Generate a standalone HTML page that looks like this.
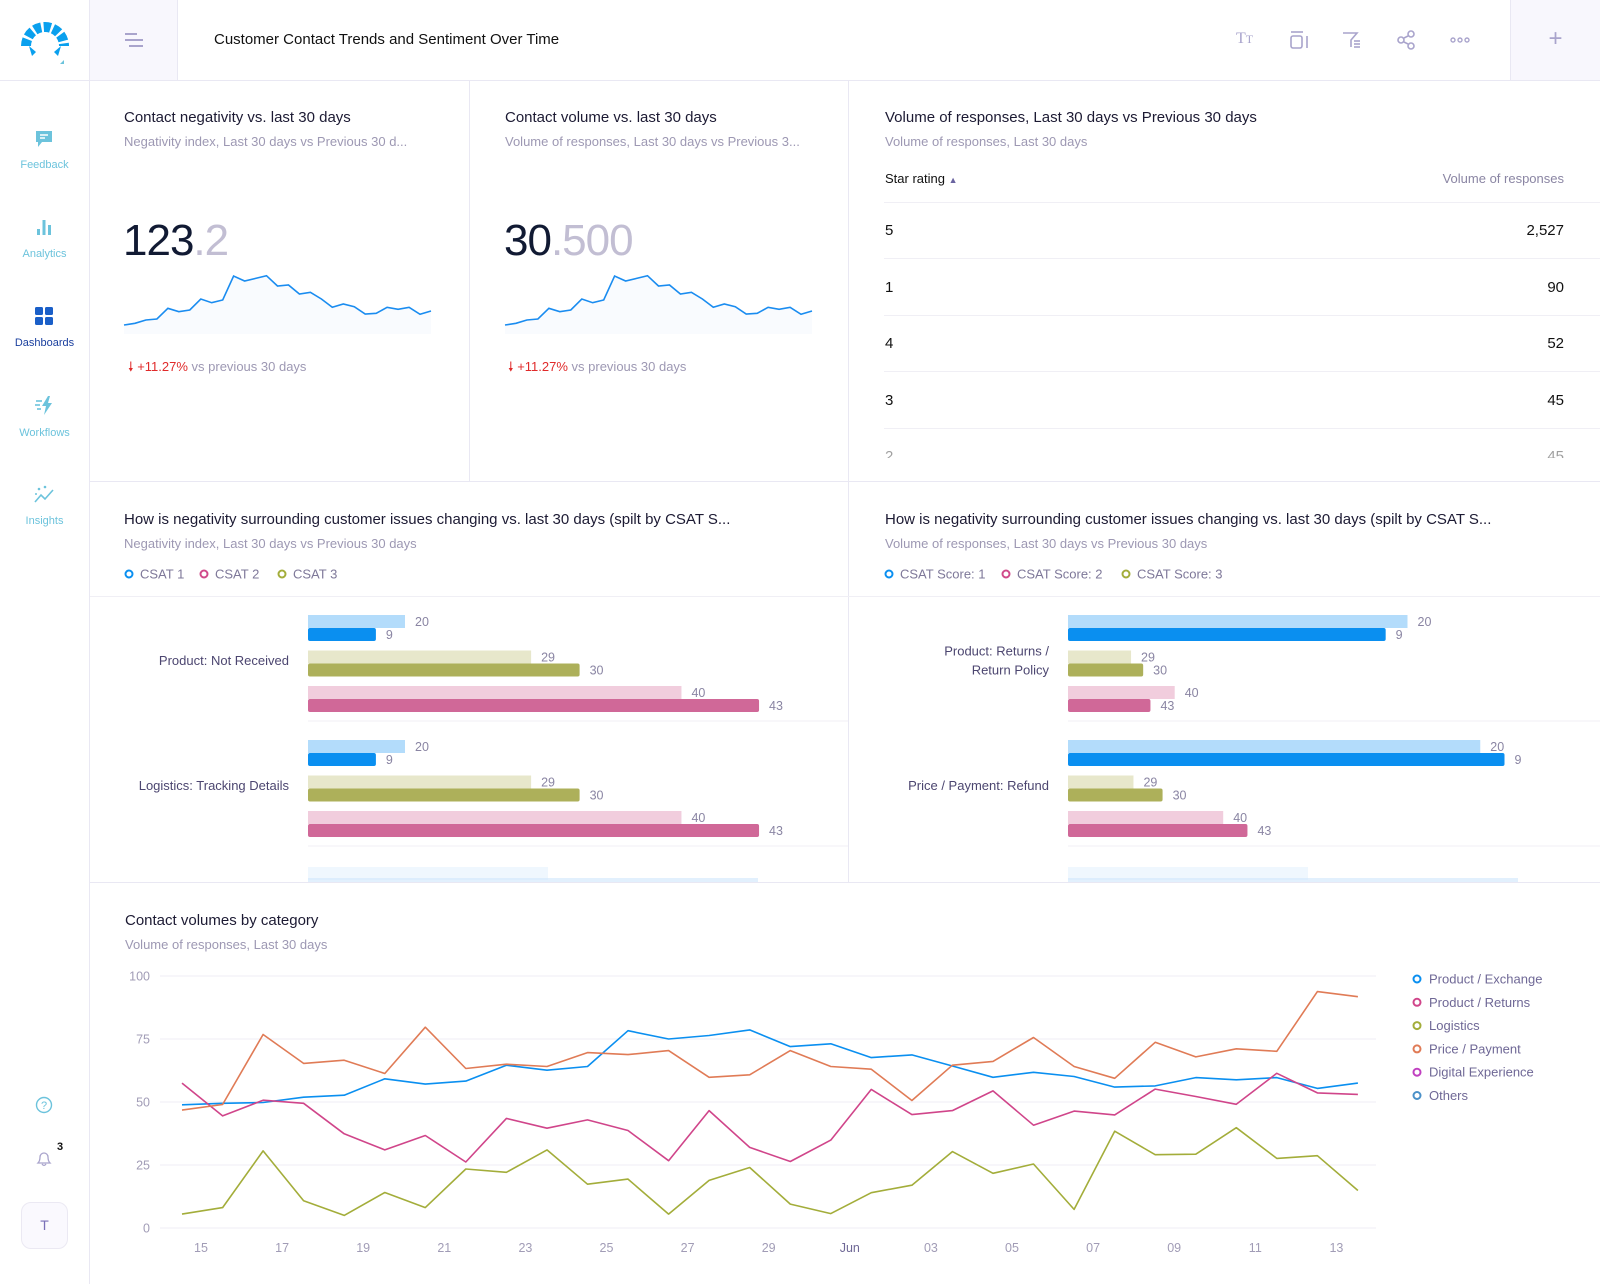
<!DOCTYPE html>
<html><head><meta charset="utf-8">
<style>
*{box-sizing:border-box;margin:0;padding:0}
body{width:1600px;height:1284px;overflow:hidden;background:#fff;font-family:"Liberation Sans",sans-serif;position:relative;color:#1c1a33}
.a{position:absolute;white-space:nowrap}
.t{font-size:15px;color:#1c1a33}
.s{font-size:13px;color:#9d98b3}
.nav{font-size:11px;color:#6cc3dc;text-align:center;width:89px;left:0}
.hl{background:#e9e8f3;position:absolute}
</style></head><body>
<div class="hl" style="left:0;top:80px;width:1600px;height:1px"></div>
<div class="hl" style="left:89px;top:0;width:1px;height:1284px"></div>
<div class="a" style="left:90px;top:0;width:88px;height:80px;background:#f8f7fd;border-right:1px solid #e9e8f3">
<svg width="88" height="80"><g stroke="#a9a4cc" stroke-width="2"><line x1="35" y1="34" x2="47" y2="34"/><line x1="35" y1="40" x2="53" y2="40"/><line x1="39" y1="46" x2="53" y2="46"/></g></svg></div>
<div class="a" style="left:1510px;top:0;width:90px;height:80px;background:#f8f7fd;border-left:1px solid #e9e8f3;font-size:24px;color:#a9a4cc;text-align:center;line-height:78px">+</div>
<svg class="a" style="left:20px;top:16px" width="50" height="50">
<path d="M6 30 A19 19 0 0 1 44 30" fill="none" stroke="#0aa0ee" stroke-width="10" stroke-dasharray="7 2.5"/>
<path d="M9 30 L16 36 L12 40Z M41 30 L34 36 L38 40Z" fill="#0aa0ee"/><path d="M44 44 L44 48 L40 48Z" fill="#6cc3dc"/></svg>
<div class="a" style="left:214px;top:31px;font-size:15px;color:#111">Customer Contact Trends and Sentiment Over Time</div>
<div class="a" style="left:1236px;top:30px;font-size:16px;color:#a9a4cc;font-family:'Liberation Serif'">T<span style="font-size:12px">T</span></div>
<svg class="a" style="left:1288px;top:30px" width="22" height="20"><g fill="none" stroke="#a9a4cc" stroke-width="1.6"><line x1="3" y1="2" x2="15" y2="2"/><rect x="3" y="6" width="11" height="12" rx="2"/><line x1="19" y1="6" x2="19" y2="18"/></g></svg>
<svg class="a" style="left:1341px;top:30px" width="22" height="20"><g fill="none" stroke="#a9a4cc" stroke-width="1.6"><path d="M2 3 H16 L10 10 V17"/><line x1="13" y1="11" x2="19" y2="11"/><line x1="13" y1="14" x2="19" y2="14"/><line x1="13" y1="17" x2="19" y2="17"/></g></svg>
<svg class="a" style="left:1396px;top:30px" width="22" height="20"><g fill="none" stroke="#a9a4cc" stroke-width="1.6"><circle cx="5" cy="10" r="3"/><circle cx="15" cy="4" r="3"/><circle cx="15" cy="16" r="3"/><line x1="8" y1="8" x2="12" y2="6"/><line x1="8" y1="12" x2="12" y2="14"/></g></svg>
<svg class="a" style="left:1449px;top:34px" width="22" height="12"><g fill="none" stroke="#a9a4cc" stroke-width="1.4"><circle cx="4" cy="6" r="2"/><circle cx="11" cy="6" r="2"/><circle cx="18" cy="6" r="2"/></g></svg>

<svg class="a" style="left:34px;top:129px" width="20" height="20"><path d="M2 2 H18 V13 H8 L4 18 V13 H2Z" fill="#6cc3dc"/><g stroke="#fff" stroke-width="1.5"><line x1="6" y1="6" x2="14" y2="6"/><line x1="6" y1="9" x2="11" y2="9"/></g></svg>
<div class="a nav" style="top:159px">Feedback</div>
<svg class="a" style="left:34px;top:217px" width="20" height="20"><g fill="#6cc3dc"><rect x="3" y="12" width="3" height="6"/><rect x="8.5" y="3" width="3" height="15"/><rect x="14" y="8" width="3" height="10"/></g></svg>
<div class="a nav" style="top:248px">Analytics</div>
<svg class="a" style="left:34px;top:306px" width="20" height="20"><g fill="#1a5fc8"><rect x="1" y="1" width="8" height="8" rx="1.5"/><rect x="11" y="1" width="8" height="8" rx="1.5"/><rect x="1" y="11" width="8" height="8" rx="1.5"/><rect x="11" y="11" width="8" height="8" rx="1.5"/></g></svg>
<div class="a nav" style="top:337px;color:#1a3f9e">Dashboards</div>
<svg class="a" style="left:34px;top:395px" width="22" height="22"><path d="M14 1 L8 11 H12 L10 20 L18 8 H14 L16 1Z" fill="#6cc3dc"/><g stroke="#6cc3dc" stroke-width="1.6"><line x1="2" y1="6" x2="8" y2="6"/><line x1="1" y1="10" x2="6" y2="10"/><line x1="3" y1="14" x2="7" y2="14"/></g></svg>
<div class="a nav" style="top:427px">Workflows</div>
<svg class="a" style="left:33px;top:485px" width="22" height="20"><polyline points="2,17 8,10 12,14 20,5" fill="none" stroke="#6cc3dc" stroke-width="1.6"/><g fill="#6cc3dc"><circle cx="6" cy="4" r="1.3"/><circle cx="12" cy="2" r="1.3"/><circle cx="3" cy="9" r="1"/></g></svg>
<div class="a nav" style="top:515px">Insights</div>
<svg class="a" style="left:35px;top:1096px" width="18" height="18"><circle cx="9" cy="9" r="7.5" fill="none" stroke="#6cc3dc" stroke-width="1.4"/><text x="9" y="13" font-size="11" text-anchor="middle" fill="#6cc3dc" font-family="Liberation Sans">?</text></svg>
<svg class="a" style="left:35px;top:1149px" width="18" height="18"><path d="M3 14 Q5 12 5 8 A4 4 0 0 1 13 8 Q13 12 15 14Z M7 15 Q9 18 11 15" fill="none" stroke="#a9a4cc" stroke-width="1.3"/></svg>
<div class="a" style="left:57px;top:1141px;font-size:11px;font-weight:bold;color:#111">3</div>
<div class="a" style="left:21px;top:1202px;width:47px;height:47px;border:1px solid #ebe9f3;border-radius:10px;background:#faf9fe;text-align:center;line-height:45px;font-size:14px;color:#7a70b8">T</div>

<div class="hl" style="left:90px;top:481px;width:1510px;height:1px"></div>
<div class="hl" style="left:90px;top:882px;width:1510px;height:1px"></div>
<div class="hl" style="left:469px;top:81px;width:1px;height:400px"></div>
<div class="hl" style="left:848px;top:81px;width:1px;height:801px"></div>
<div class="hl" style="left:90px;top:596px;width:1510px;height:1px;background:#f0eff5"></div>

<div class="a t" style="left:124px;top:109px">Contact negativity vs. last 30 days</div>
<div class="a s" style="left:124px;top:134px">Negativity index, Last 30 days vs Previous 30 d...</div>
<div class="a" style="left:123px;top:216px;font-size:44px;color:#111a33;letter-spacing:-1px">123<span style="color:#c2bed3">.2</span></div>
<svg class="a" style="left:0;top:0" width="470" height="400" id="spark1"></svg>
<div class="a" style="left:128px;top:358px;font-size:13px;color:#9d98b3"><span style="color:#e02a2a">&#129047; +11.27%</span> vs previous 30 days</div>

<div class="a t" style="left:505px;top:109px">Contact volume vs. last 30 days</div>
<div class="a s" style="left:505px;top:134px">Volume of responses, Last 30 days vs Previous 3...</div>
<div class="a" style="left:504px;top:216px;font-size:44px;color:#111a33;letter-spacing:-1px">30<span style="color:#c2bed3">.500</span></div>
<svg class="a" style="left:0;top:0" width="850" height="400" id="spark2"></svg>
<div class="a" style="left:508px;top:358px;font-size:13px;color:#9d98b3"><span style="color:#e02a2a">&#129047; +11.27%</span> vs previous 30 days</div>

<div class="a t" style="left:885px;top:109px">Volume of responses, Last 30 days vs Previous 30 days</div>
<div class="a s" style="left:885px;top:134px">Volume of responses, Last 30 days</div>
<div class="a" style="left:885px;top:171px;font-size:13px;color:#111">Star rating <span style="font-size:9px;color:#6a64a0">&#9650;&#xFE0E;</span></div>
<div class="a" style="right:36px;top:171px;font-size:13px;color:#8a85a3">Volume of responses</div>
<div id="table"></div>

<div class="a t" style="left:124px;top:511px">How is negativity surrounding customer issues changing vs. last 30 days (spilt by CSAT S...</div>
<div class="a s" style="left:124px;top:536px">Negativity index, Last 30 days vs Previous 30 days</div>
<div class="a t" style="left:885px;top:511px">How is negativity surrounding customer issues changing vs. last 30 days (spilt by CSAT S...</div>
<div class="a s" style="left:885px;top:536px">Volume of responses, Last 30 days vs Previous 30 days</div>
<svg class="a" style="left:0;top:0" width="1600" height="882" id="bars"></svg>

<div class="a t" style="left:125px;top:912px">Contact volumes by category</div>
<div class="a s" style="left:125px;top:937px">Volume of responses, Last 30 days</div>
<svg class="a" style="left:0;top:0" width="1600" height="1284" id="lines"></svg>

<script>
const NS='http://www.w3.org/2000/svg';
function mk(p,tag,at,txt){const e=document.createElementNS(NS,tag);for(const k in at)e.setAttribute(k,at[k]);if(txt!==undefined)e.textContent=txt;p.appendChild(e);return e;}
const sparkValues=[2.5,3,4,4.3,7.5,6.5,7,10.3,9.2,10,17.2,15.7,16.5,17.3,14.2,14.5,11.8,12.3,10.3,7.8,8.8,8,5.8,6,7.8,7.2,7.8,5.7,6.7];
function spark(id,x0){const s=document.getElementById(id);const n=sparkValues.length;
 const sx=i=>x0+i*(307/(n-1)), sy=v=>333.3-v*3.33;
 let d=sparkValues.map((v,i)=>(i?'L':'M')+sx(i).toFixed(1)+' '+sy(v).toFixed(1)).join(' ');
 const ar=mk(s,'path',{d:d+' L'+sx(n-1)+' 334 L'+x0+' 334Z',fill:'#f3f8fe',opacity:'0.5'});
 
 const ln=mk(s,'path',{d:d,fill:'none',stroke:'#1a8cf0','stroke-width':1.6});
 }
spark('spark1',124);spark('spark2',505);

const ratings=['5','1','4','3','2'];
const volumes=['2,527','90','52','45','45'];
(function(){const t=document.getElementById('table');
 const lines=[202,258,315,371,428];
 lines.forEach((y,i)=>{const d=document.createElement('div');d.className='hl';d.style.cssText='left:884px;top:'+y+'px;width:716px;height:1px;background:#f0eff5';
  t.appendChild(d);});
 ratings.forEach((r,i)=>{const y=222+i*56.6;
  const a=document.createElement('div');a.className='a';a.style.cssText='left:885px;top:'+y+'px;font-size:15px;color:#111'+(i==4?';height:10px;overflow:hidden;opacity:.4':'');a.textContent=r;
  t.appendChild(a);
  const b=document.createElement('div');b.className='a';b.style.cssText='right:36px;top:'+y+'px;font-size:15px;color:#111'+(i==4?';height:10px;overflow:hidden;opacity:.4':'');b.textContent=volumes[i];
  t.appendChild(b);});
})();

const leftCategories=['Product: Not Received','Logistics: Tracking Details'];
const rightCategories=[['Product: Returns /','Return Policy'],['Price / Payment: Refund']];
const barLabels=['20','9','29','30','40','43'];
const leftBars=[[20,14,46,56,77,93],[20,14,46,56,77,93]];
const rightBars=[[70,65.5,13,15.5,22,17],[85,90,13.5,19.5,32,37]];
const barColors=['#b3dcfb','#0a8ff0','#e7e7cb','#adb05a','#f1cddd','#d06898'];
const svgB=document.getElementById('bars');
function legend(x,y,items){let cx=x;items.forEach(it=>{
 const c=mk(svgB,'circle',{cx:cx+4,cy:y,r:3.5,fill:'none',stroke:it[1],'stroke-width':2});
 
 const t=mk(svgB,'text',{x:cx+15,y:y+4.5,'font-size':13,fill:'#7e7899'},it[0]);
 
 cx+=it[2];});}
legend(125,574,[['CSAT 1','#0a8ff0',75],['CSAT 2','#d04a8a',78],['CSAT 3','#a3ad3a',0]]);
legend(885,574,[['CSAT Score: 1','#0a8ff0',117],['CSAT Score: 2','#d04a8a',120],['CSAT Score: 3','#a3ad3a',0]]);
function barChart(x0,labelX,cats,data,sep){
 const sx=v=>v*4.85;
 data.forEach((row,ci)=>{const base=615+ci*125;
  row.forEach((v,j)=>{const grp=Math.floor(j/2), y=base+grp*35.5+(j%2)*13;
   const r=mk(svgB,'rect',{x:x0,y:y,width:sx(v),height:13,rx:j%2?2:0,fill:barColors[j]});
   
   const t=mk(svgB,'text',{x:x0+sx(v)+10,y:y+11,'font-size':12.5,fill:'#8a85a3'},barLabels[j]);
   });
  const lab=Array.isArray(cats[ci])?cats[ci]:[cats[ci]];
  lab.forEach((l,k)=>{const t=mk(svgB,'text',{x:labelX,y:base+50-(lab.length-1)*9.5+k*19,'text-anchor':'end','font-size':13,fill:'#4c4670'},l);
   });
  const ln=mk(svgB,'line',{x1:x0,x2:sep,y1:base+106,y2:base+106,stroke:'#f0eff5'});
  });
 const f=mk(svgB,'rect',{x:x0,y:867,width:240,height:13,fill:'#e5f1fd',opacity:.6});
 
 const f2=mk(svgB,'rect',{x:x0,y:878,width:450,height:4,fill:'#cfe6fb',opacity:.6});
 }
barChart(308,289,leftCategories,leftBars,848);
barChart(1068,1049,rightCategories,rightBars,1600);

const dateTicks=['15','17','19','21','23','25','27','29','Jun','03','05','07','09','11','13'];
const yTicks=[0,25,50,75,100];
const seriesNames=['Product / Exchange','Product / Returns','Logistics','Price / Payment','Digital Experience','Others'];
const seriesColors=['#0a8ff0','#d0458a','#a3ad3a','#e07b56','#c040c0','#4a90c8'];
const productExchange=[48.9,49.5,49.8,51.9,52.7,59.2,57.1,58.3,64.6,62.6,64.1,78.3,75.0,76.4,78.6,72.0,73.1,67.6,68.7,64.3,59.8,61.8,60.1,55.9,56.4,59.7,58.8,59.7,55.4,57.5];
const productReturns=[57.5,44.5,50.7,49.5,37.4,31.0,36.7,26.2,43.5,39.6,42.9,38.7,26.7,46.6,32.0,26.4,34.9,55.0,45.0,46.6,54.4,40.8,46.4,44.9,55.1,52.2,49.1,61.4,53.6,53.0];
const logistics=[5.5,8.1,30.6,10.8,5.0,14.1,8.1,23.4,22.1,31.0,17.4,19.4,5.5,18.9,24.0,9.5,5.7,14.0,17.0,30.3,21.7,25.4,7.4,38.4,29.1,29.3,39.8,27.6,28.7,14.9];
const pricePayment=[46.8,49.0,76.8,65.3,66.6,61.3,79.7,63.3,65.0,64.1,69.6,68.8,70.4,59.8,60.8,70.4,64.1,63.0,50.6,64.6,66.1,75.6,64.1,59.4,73.7,67.9,71.1,70.1,93.8,91.8];
const svgL=document.getElementById('lines');
const X0=182,STEP=40.55,Y0=1228,YH=252;
const xs=i=>X0+i*STEP, ys=v=>Y0-v/100*YH;
yTicks.forEach(v=>{const l=mk(svgL,'line',{x1:160,x2:1376,y1:ys(v),y2:ys(v),stroke:'#efeef5'});
 
 const t=mk(svgL,'text',{x:150,y:ys(v)+4.5,'text-anchor':'end','font-size':12.5,fill:'#a19cb6'},String(v));
 });
dateTicks.forEach((d,k)=>{const t=mk(svgL,'text',{x:xs(2*k)+19,y:1252,'text-anchor':'middle','font-size':12.5,fill:d==='Jun'?'#6f6896':'#a19cb6'},d);
 });
[productExchange,productReturns,logistics,pricePayment].forEach((s,si)=>{
 const p=mk(svgL,'polyline',{points:s.map((v,i)=>xs(i).toFixed(1)+','+ys(v).toFixed(1)).join(' '),fill:'none',stroke:seriesColors[si],'stroke-width':1.6,'stroke-linejoin':'round'});
 });
seriesNames.forEach((n,i)=>{const y=979+i*23.3;
 const c=mk(svgL,'circle',{cx:1417,cy:y,r:3.5,fill:'none',stroke:seriesColors[i],'stroke-width':2});
 
 const t=mk(svgL,'text',{x:1429,y:y+4.5,'font-size':13,fill:'#6f6896'},n);
 });
</script>
</body></html>
